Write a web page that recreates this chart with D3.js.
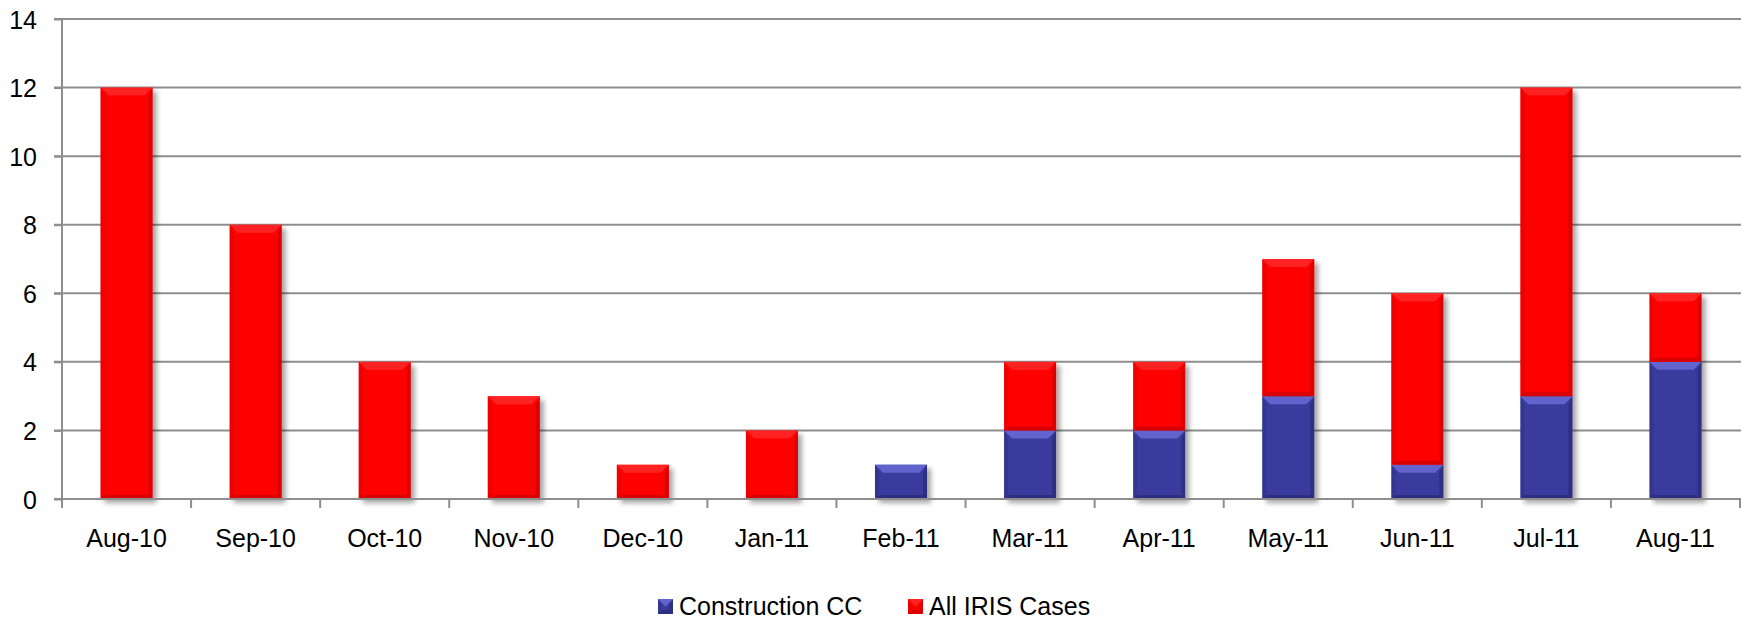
<!DOCTYPE html>
<html>
<head>
<meta charset="utf-8">
<script src="https://cdn.jsdelivr.net/npm/d3@7"></script>
<style>
  body { margin: 0; background: #fff; }
  text { font-family: "Liberation Sans", Arial, sans-serif; fill: #000; }
</style>
</head>
<body>
<div id="chart"></div>
<script>
// chart data
var months = ["Aug-10", "Sep-10", "Oct-10", "Nov-10", "Dec-10", "Jan-11", "Feb-11",
              "Mar-11", "Apr-11", "May-11", "Jun-11", "Jul-11", "Aug-11"];
var constructionCC = [0, 0, 0, 0, 0, 0, 1, 2, 2, 3, 1, 3, 4];
var allIrisCases   = [12, 8, 4, 3, 1, 2, 0, 2, 2, 4, 5, 9, 2];
var yTicks = [0, 2, 4, 6, 8, 10, 12, 14];
var seriesNames = ["Construction CC", "All IRIS Cases"];

var svgWidth = 1741, svgHeight = 621;
var plotLeft = 62, plotRight = 1740, plotTop = 19, plotBottom = 499;

var svg = d3.select("#chart").append("svg")
    .attr("width", svgWidth)
    .attr("height", svgHeight);

// colours: base, highlight, shade
var palette = [
    { base: "#3a3b9d", light: "#6d6ed9", dark: "#26276e", lightOp: 0.8 },
    { base: "#fe0000", light: "#ff4040", dark: "#bf0000", lightOp: 0.55 }
];

var defs = svg.append("defs");
defs.append("filter").attr("id", "shadow")
    .attr("x", "-20%").attr("y", "-20%").attr("width", "150%").attr("height", "150%")
  .append("feDropShadow")
    .attr("dx", 4).attr("dy", 4).attr("stdDeviation", 2.5)
    .attr("flood-color", "#000").attr("flood-opacity", 0.35);

// scales
var xScale = d3.scaleBand()
    .domain(months)
    .range([plotLeft, plotRight])
    .paddingInner(0.597)
    .paddingOuter(0.2985);

var yScale = d3.scaleLinear()
    .domain([0, 14])
    .range([plotBottom, plotTop]);

// gridlines
svg.append("g")
    .selectAll("line")
    .data(yTicks.filter(d => d > 0))
    .enter()
    .append("line")
    .attr("x1", plotLeft - 8)
    .attr("x2", svgWidth)
    .attr("y1", d => yScale(d))
    .attr("y2", d => yScale(d))
    .attr("stroke", "#8e8e8e")
    .attr("stroke-width", 2);

// y axis
var yAxis = d3.axisLeft(yScale).tickValues(yTicks).tickSize(8).tickPadding(17);
var yG = svg.append("g")
    .attr("transform", `translate(${plotLeft},0)`)
    .call(yAxis);
yG.select(".domain").attr("stroke", "#8e8e8e").attr("stroke-width", 2)
    .attr("d", `M0,${plotTop}V${plotBottom}`);
yG.selectAll(".tick line").attr("stroke", "#8e8e8e").attr("stroke-width", 2);
yG.selectAll(".tick text").style("font-size", "25px").attr("dy", "0.36em");

// bar segments stacked
var stackData = months.map(function(m, i) {
    return { month: m, cc: constructionCC[i], iris: allIrisCases[i] };
});
var stack = d3.stack().keys(["cc", "iris"]);
var layers = stack(stackData);

function bevelSegment(g, x0, y0, w, h, col) {
    var x1 = x0 + w, y1 = y0 + h;
    var b = Math.min(8, h / 2), s = 4;
    g.append("rect").attr("x", x0).attr("y", y0).attr("width", w).attr("height", h)
        .attr("fill", col.base);
    // top highlight
    g.append("path")
        .attr("d", `M${x0},${y0}L${x1},${y0}L${x1 - b},${y0 + b}L${x0 + b},${y0 + b}Z`)
        .attr("fill", col.light).attr("opacity", col.lightOp);
    // left edge
    g.append("path")
        .attr("d", `M${x0},${y0}L${x0 + s},${y0 + b}L${x0 + s},${y1 - s}L${x0},${y1}Z`)
        .attr("fill", col.dark).attr("opacity", 0.25);
    // right edge
    g.append("path")
        .attr("d", `M${x1},${y0}L${x1 - s},${y0 + b}L${x1 - s},${y1 - s}L${x1},${y1}Z`)
        .attr("fill", col.dark).attr("opacity", 0.55);
    // bottom edge
    g.append("path")
        .attr("d", `M${x0},${y1}L${x0 + s},${y1 - s}L${x1 - s},${y1 - s}L${x1},${y1}Z`)
        .attr("fill", col.dark).attr("opacity", 0.6);
}

var barsG = svg.append("g");
stackData.forEach(function(d, i) {
    var bar = barsG.append("g").attr("filter", "url(#shadow)");
    layers.forEach(function(layer, k) {
        var seg = layer[i];
        if (seg[1] - seg[0] <= 0) return;
        var y0 = yScale(seg[1]), y1 = yScale(seg[0]);
        bevelSegment(bar, xScale(d.month), y0, xScale.bandwidth(), y1 - y0, palette[k]);
    });
});

// x axis
var step = xScale.step();
var xG = svg.append("g");
xG.append("line")
    .attr("x1", plotLeft - 8).attr("x2", svgWidth)
    .attr("y1", plotBottom).attr("y2", plotBottom)
    .attr("stroke", "#8e8e8e").attr("stroke-width", 2);
xG.selectAll(".xtick")
    .data(d3.range(months.length + 1))
    .enter()
    .append("line")
    .attr("x1", i => plotLeft + i * step)
    .attr("x2", i => plotLeft + i * step)
    .attr("y1", plotBottom)
    .attr("y2", plotBottom + 9)
    .attr("stroke", "#8e8e8e").attr("stroke-width", 2);
xG.selectAll(".xlabel")
    .data(months)
    .enter()
    .append("text")
    .attr("x", d => xScale(d) + xScale.bandwidth() / 2)
    .attr("y", 547)
    .attr("text-anchor", "middle")
    .style("font-size", "25px")
    .text(d => d);

// legend
var legendPos = [658, 908];
var legend = svg.append("g");
seriesNames.forEach(function(name, k) {
    var lg = legend.append("g");
    bevelSegment(lg, legendPos[k], 599, 15, 15, palette[k]);
    lg.append("text")
        .attr("x", legendPos[k] + 21)
        .attr("y", 615)
        .style("font-size", "25px")
        .text(name);
});
</script>
</body>
</html>
